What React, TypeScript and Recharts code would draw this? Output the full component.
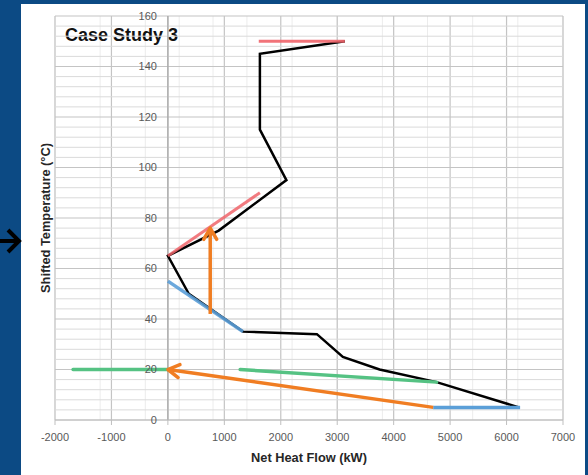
import React from 'react';
import {
  ComposedChart, Line, XAxis, YAxis, CartesianGrid, ReferenceLine, ReferenceDot,
} from 'recharts';

// ---- data ----
const xTicks = [-2000, -1000, 0, 1000, 2000, 3000, 4000, 5000, 6000, 7000];
const yTicks = [0, 20, 40, 60, 80, 100, 120, 140, 160];
const xMinor = [-2000, -1800, -1600, -1400, -1200, -1000, -800, -600, -400, -200, 0, 200, 400, 600, 800, 1000, 1200, 1400, 1600, 1800, 2000, 2200, 2400, 2600, 2800, 3000, 3200, 3400, 3600, 3800, 4000, 4200, 4400, 4600, 4800, 5000, 5200, 5400, 5600, 5800, 6000, 6200, 6400, 6600, 6800, 7000];
const yMinor = [4, 8, 12, 16, 24, 28, 32, 36, 44, 48, 52, 56, 64, 68, 72, 76, 84, 88, 92, 96, 104, 108, 112, 116, 124, 128, 132, 136, 144, 148, 152, 156];

const gccX = [3135, 1630, 1630, 2100, 900, 0, 370, 1330, 2640, 3100, 3750, 4760, 6220];
const gccY = [150, 145, 115, 95, 75, 65, 50, 35, 34, 25, 20, 15, 5];

const redTopX = [1610, 3135];
const redTopY = [150, 150];
const redMidX = [0, 1630];
const redMidY = [65, 90];

const blueMidX = [0, 1330];
const blueMidY = [55, 35];
const blueLowX = [4700, 6240];
const blueLowY = [5, 5];

const greenLeftX = [-1680, 0];
const greenLeftY = [20, 20];
const greenRightX = [1280, 4760];
const greenRightY = [20, 15];

const arrowUpX = [750, 750];
const arrowUpY = [42, 76];
const arrowBackX = [4700, 0];
const arrowBackY = [5, 20];

const toData = (xs: number[], ys: number[]) => xs.map((x, i) => ({ x, y: ys[i] }));

const FONT = '"Liberation Sans", Arial, sans-serif';

const ArrowHeadDot = (props: any) => {
  const { index, cx, cy, points, stroke } = props;
  if (!points || index !== points.length - 1) return <g key={`d-${index}`} />;
  const prev = points[index - 1];
  const dx = cx - prev.x;
  const dy = cy - prev.y;
  const len = Math.sqrt(dx * dx + dy * dy) || 1;
  const ux = dx / len;
  const uy = dy / len;
  const L = 13;
  const a = Math.PI / 6;
  const rot = (ang: number) => ({
    x: cx - L * (ux * Math.cos(ang) - uy * Math.sin(ang)),
    y: cy - L * (ux * Math.sin(ang) + uy * Math.cos(ang)),
  });
  const p1 = rot(a);
  const p2 = rot(-a);
  return (
    <path
      key={`d-${index}`}
      d={`M${p1.x},${p1.y} L${cx},${cy} L${p2.x},${p2.y}`}
      fill="none"
      stroke={stroke}
      strokeWidth={3.5}
      strokeLinecap="round"
      strokeLinejoin="round"
    />
  );
};

export default function App() {
  return (
    <div style={{ position: 'absolute', left: 0, top: 0, width: 588, height: 475, background: '#0c4a84', overflow: 'hidden' }}>
      <div style={{ position: 'absolute', left: 21, top: 4, width: 564, height: 471, background: '#ffffff' }} />
      <svg style={{ position: 'absolute', left: 0, top: 0 }} width={22} height={475}>
        <path d="M0,241 L18,241 M8,230 L19,241 L8,252" fill="none" stroke="#000" strokeWidth={4} strokeLinejoin="miter" />
      </svg>
      <div style={{ position: 'absolute', left: 0, top: 0 }}>
        <ComposedChart width={588} height={475} margin={{ top: 16, right: 25, bottom: 25, left: 55 }}>
          <CartesianGrid horizontal={false} verticalValues={xMinor} stroke="#ececec" strokeWidth={1} />
          {yMinor.map((v) => (
            <ReferenceLine key={`ym-${v}`} y={v} stroke="#dadada" strokeWidth={1} />
          ))}
          <CartesianGrid horizontal={false} verticalValues={xTicks} stroke="#c4c4c4" strokeWidth={1.2} />
          {yTicks.map((v) => (
            <ReferenceLine key={`yM-${v}`} y={v} stroke="#c4c4c4" strokeWidth={1.2} />
          ))}
          <XAxis
            type="number"
            dataKey="x"
            domain={[-2000, 7000]}
            ticks={xTicks}
            allowDataOverflow
            height={30}
            axisLine={{ stroke: '#bfbfbf' }}
            tickLine={{ stroke: '#bfbfbf' }}
            tickSize={5}
            tickMargin={8}
            tick={{ fill: '#595959', fontSize: 11, fontFamily: FONT }}
            label={{ value: 'Net Heat Flow (kW)', position: 'insideBottom', offset: -12, fill: '#262626', fontSize: 12.8, fontWeight: 'bold', fontFamily: FONT }}
          />
          <YAxis
            type="number"
            dataKey="y"
            domain={[0, 160]}
            ticks={yTicks}
            width={0}
            axisLine={false}
            tickLine={false}
            tick={false}
          />
          <ReferenceLine x={0} stroke="#a6a6a6" strokeWidth={1.2} />
          {yTicks.map((v) => (
            <ReferenceDot
              key={`yl-${v}`}
              x={0}
              y={v}
              r={0}
              stroke="none"
              fill="none"
              label={{ value: String(v), position: 'left', offset: 11, fill: '#595959', fontSize: 11, fontFamily: FONT }}
            />
          ))}
          <Line data={toData(gccX, gccY)} dataKey="y" stroke="#000000" strokeWidth={2.5} dot={false} isAnimationActive={false} />
          <Line data={toData(redTopX, redTopY)} dataKey="y" stroke="#f0646a" strokeOpacity={0.9} strokeWidth={3} dot={false} isAnimationActive={false} />
          <Line data={toData(redMidX, redMidY)} dataKey="y" stroke="#f0646a" strokeOpacity={0.85} strokeWidth={3} dot={false} isAnimationActive={false} />
          <Line data={toData(blueMidX, blueMidY)} dataKey="y" stroke="#5b9fd8" strokeOpacity={0.9} strokeWidth={3.5} dot={false} isAnimationActive={false} />
          <Line data={toData(blueLowX, blueLowY)} dataKey="y" stroke="#5b9fd8" strokeWidth={3.5} dot={false} isAnimationActive={false} />
          <Line data={toData(greenLeftX, greenLeftY)} dataKey="y" stroke="#55c283" strokeWidth={3.5} strokeLinecap="round" dot={false} isAnimationActive={false} />
          <Line data={toData(greenRightX, greenRightY)} dataKey="y" stroke="#55c283" strokeWidth={3.5} strokeLinecap="round" dot={false} isAnimationActive={false} />
          <Line data={toData(arrowUpX, arrowUpY)} dataKey="y" stroke="#f07d22" strokeWidth={3.5} dot={ArrowHeadDot} isAnimationActive={false} />
          <Line data={toData(arrowBackX, arrowBackY)} dataKey="y" stroke="#f07d22" strokeWidth={3.5} dot={ArrowHeadDot} isAnimationActive={false} />
          <text x={65} y={41} fill="#111111" fontSize={18} fontWeight="bold" fontFamily={FONT}>Case Study 3</text>
          <text
            x={45}
            y={218}
            fill="#262626"
            fontSize={12.8}
            fontWeight="bold"
            fontFamily={FONT}
            textAnchor="middle"
            dominantBaseline="central"
            transform="rotate(-90 45 218)"
          >
            Shifted Temperature (°C)
          </text>
        </ComposedChart>
      </div>
    </div>
  );
}
